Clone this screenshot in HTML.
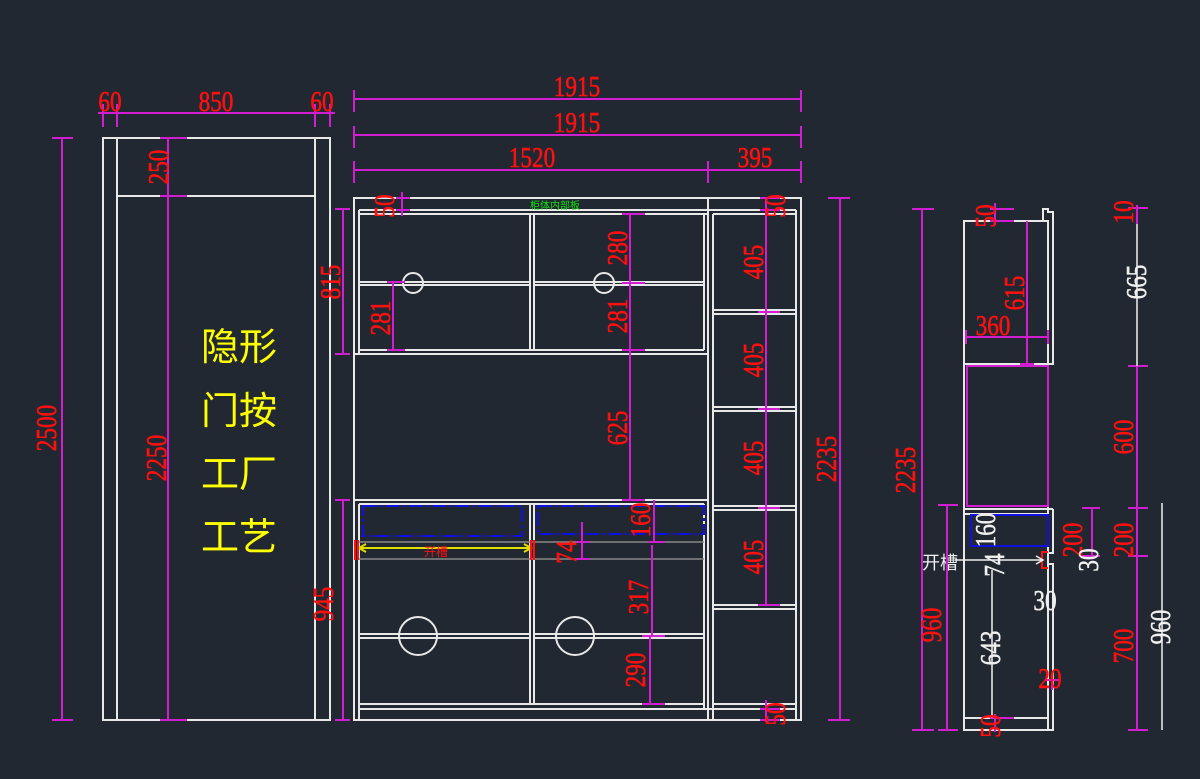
<!DOCTYPE html>
<html><head><meta charset="utf-8"><style>
html,body{margin:0;padding:0;background:#222831;}
svg{display:block}
.w{stroke:#e8e8e8;stroke-width:2;fill:none}
.m{stroke:#d01ed0;stroke-width:2;fill:none}
.t{fill:#ff1010;stroke:#ff1010;stroke-width:0.6;font-family:"Liberation Serif",serif;font-size:29px;text-anchor:middle}
.tw{fill:#f0f0f0;stroke:#f0f0f0;stroke-width:0.5;font-family:"Liberation Serif",serif;font-size:29px;text-anchor:middle}
.cn{fill:#ffff00;font-family:"Liberation Sans","Noto Sans CJK SC",sans-serif;font-size:38px}
</style></head><body>
<svg width="1200" height="779" viewBox="0 0 1200 779" xmlns="http://www.w3.org/2000/svg">
<rect width="1200" height="779" fill="#222831"/>

<!-- LEFT DOOR -->
<rect class="w" x="103" y="138" width="227" height="582"/>
<line class="w" x1="117" y1="138" x2="117" y2="720"/>
<line class="w" x1="315" y1="138" x2="315" y2="720"/>
<line class="w" x1="117" y1="196" x2="315" y2="196"/>
<g class="m">
<line x1="98" y1="113" x2="335" y2="113"/>
<line x1="103" y1="104" x2="103" y2="127"/><line x1="117" y1="104" x2="117" y2="127"/>
<line x1="315" y1="104" x2="315" y2="127"/><line x1="330" y1="104" x2="330" y2="127"/>
<line x1="62" y1="138" x2="62" y2="720"/>
<line x1="52" y1="138" x2="73" y2="138"/><line x1="52" y1="720" x2="73" y2="720"/>
<line x1="168" y1="138" x2="168" y2="720"/>
<line x1="160" y1="138" x2="187" y2="138"/><line x1="160" y1="196" x2="187" y2="196"/><line x1="160" y1="720" x2="187" y2="720"/>
</g>
<text class="t" transform="translate(110,111) scale(0.8,1)">60</text>
<text class="t" transform="translate(216,111) scale(0.8,1)">850</text>
<text class="t" transform="translate(322,111) scale(0.8,1)">60</text>
<text class="t" transform="translate(56,428) rotate(-90) scale(0.8,1)">2500</text>
<text class="t" transform="translate(166,458) rotate(-90) scale(0.8,1)">2250</text>
<text class="t" transform="translate(168,167) rotate(-90) scale(0.8,1)">250</text>
<text class="cn" x="201" y="360">隐形</text>
<text class="cn" x="201" y="424">门按</text>
<text class="cn" x="201" y="487">工厂</text>
<text class="cn" x="201" y="550">工艺</text>

<!-- MIDDLE CABINET -->
<g class="w">
<rect x="354" y="198" width="447" height="522"/>
<line x1="359" y1="210" x2="796" y2="210"/>
<line x1="359" y1="214" x2="708" y2="214"/>
<line x1="708" y1="198" x2="708" y2="720"/>
<line x1="713" y1="214" x2="713" y2="720"/>
<line x1="796" y1="210" x2="796" y2="720"/>
<line x1="713" y1="214" x2="796" y2="214"/>
<line x1="359" y1="210" x2="359" y2="354"/>
<line x1="354" y1="354" x2="708" y2="354"/>
<line x1="359" y1="350" x2="704" y2="350"/>
<line x1="704" y1="214" x2="704" y2="350"/>
<line x1="530" y1="214" x2="530" y2="350"/><line x1="534" y1="214" x2="534" y2="350"/>
<line x1="359" y1="282" x2="530" y2="282"/><line x1="359" y1="285" x2="530" y2="285"/>
<line x1="534" y1="282" x2="704" y2="282"/><line x1="534" y1="285" x2="704" y2="285"/>
<circle cx="413" cy="283" r="10"/><circle cx="604" cy="283" r="10"/>
<line x1="354" y1="500" x2="708" y2="500"/>
<line x1="359" y1="504" x2="704" y2="504"/>
<line x1="359" y1="504" x2="359" y2="720"/>
<line x1="704" y1="504" x2="704" y2="709"/>
<line x1="530" y1="504" x2="530" y2="704"/><line x1="534" y1="504" x2="534" y2="704"/>
<line x1="359" y1="634" x2="530" y2="634"/><line x1="359" y1="638" x2="530" y2="638"/>
<line x1="534" y1="634" x2="704" y2="634"/><line x1="534" y1="638" x2="704" y2="638"/>
<circle cx="418" cy="636" r="19"/><circle cx="575" cy="636" r="19"/>
<line x1="359" y1="704" x2="704" y2="704"/>
<line x1="359" y1="709" x2="796" y2="709"/>
<line x1="713" y1="310" x2="796" y2="310"/><line x1="713" y1="314" x2="796" y2="314"/>
<line x1="713" y1="407" x2="796" y2="407"/><line x1="713" y1="411" x2="796" y2="411"/>
<line x1="713" y1="506" x2="796" y2="506"/><line x1="713" y1="510" x2="796" y2="510"/>
<line x1="713" y1="605" x2="796" y2="605"/><line x1="713" y1="609" x2="796" y2="609"/>
<line x1="713" y1="704" x2="796" y2="704"/>
</g>
<line x1="359" y1="542" x2="704" y2="542" stroke="#888" stroke-width="1.5"/>
<line x1="359" y1="559" x2="704" y2="559" stroke="#888" stroke-width="1.5"/>
<rect x="363" y="506" width="159" height="30" fill="none" stroke="#1010e0" stroke-width="2" stroke-dasharray="14,3,3,3"/>
<rect x="538" y="506" width="166" height="28" fill="none" stroke="#1010e0" stroke-width="2" stroke-dasharray="14,3,3,3"/>
<line x1="360" y1="548" x2="530" y2="548" stroke="#e0e000" stroke-width="2"/>
<path d="M366 544 L359 548 L366 552 M524 544 L531 548 L524 552" stroke="#e0e000" stroke-width="2" fill="none"/>
<path d="M355 540 V560 M358 540 V560 M531 540 V560 M534 540 V560" stroke="#ff1010" stroke-width="2"/>
<text x="436" y="556" fill="#ff1010" font-size="12" font-family="Liberation Sans,Noto Sans CJK SC,sans-serif" text-anchor="middle">开槽</text>
<text x="555" y="209" fill="#10e010" font-size="10" font-family="Liberation Sans,Noto Sans CJK SC,sans-serif" text-anchor="middle">柜体内部板</text>

<g class="m">
<line x1="354" y1="99" x2="801" y2="99"/><line x1="354" y1="90" x2="354" y2="112"/><line x1="801" y1="90" x2="801" y2="112"/>
<line x1="354" y1="135" x2="801" y2="135"/><line x1="354" y1="126" x2="354" y2="148"/><line x1="801" y1="126" x2="801" y2="148"/>
<line x1="354" y1="170" x2="801" y2="170"/><line x1="354" y1="161" x2="354" y2="183"/><line x1="708" y1="161" x2="708" y2="183"/><line x1="801" y1="161" x2="801" y2="183"/>
<line x1="343" y1="209" x2="343" y2="354"/><line x1="335" y1="209" x2="350" y2="209"/><line x1="335" y1="354" x2="350" y2="354"/>
<line x1="343" y1="500" x2="343" y2="720"/><line x1="335" y1="500" x2="350" y2="500"/><line x1="335" y1="720" x2="350" y2="720"/>
<line x1="840" y1="198" x2="840" y2="720"/><line x1="828" y1="198" x2="850" y2="198"/><line x1="828" y1="720" x2="850" y2="720"/>
<line x1="402" y1="192" x2="402" y2="216"/><line x1="396" y1="198" x2="410" y2="198"/><line x1="396" y1="210" x2="410" y2="210"/>
<line x1="393" y1="282" x2="393" y2="350"/><line x1="387" y1="282" x2="405" y2="282"/><line x1="387" y1="350" x2="405" y2="350"/>
<line x1="630" y1="214" x2="630" y2="500"/>
<line x1="622" y1="214" x2="645" y2="214"/><line x1="622" y1="283" x2="645" y2="283"/><line x1="622" y1="350" x2="645" y2="350"/><line x1="622" y1="500" x2="645" y2="500"/>
<line x1="654" y1="500" x2="654" y2="542"/><line x1="648" y1="542" x2="665" y2="542"/>
<line x1="582" y1="522" x2="582" y2="559"/><line x1="576" y1="542" x2="590" y2="542"/><line x1="576" y1="559" x2="590" y2="559"/>
<line x1="652" y1="545" x2="652" y2="636"/><line x1="642" y1="636" x2="665" y2="636"/>
<line x1="650" y1="636" x2="650" y2="704"/><line x1="642" y1="704" x2="665" y2="704"/>
<line x1="766" y1="198" x2="766" y2="605"/>
<line x1="760" y1="198" x2="780" y2="198"/><line x1="760" y1="210" x2="780" y2="210"/>
<line x1="758" y1="312" x2="780" y2="312"/><line x1="758" y1="409" x2="780" y2="409"/><line x1="758" y1="508" x2="780" y2="508"/><line x1="758" y1="605" x2="780" y2="605"/>
<line x1="766" y1="700" x2="766" y2="722"/><line x1="760" y1="709" x2="780" y2="709"/><line x1="760" y1="720" x2="780" y2="720"/>
</g>
<text class="t" transform="translate(577,96) scale(0.8,1)">1915</text>
<text class="t" transform="translate(577,132) scale(0.8,1)">1915</text>
<text class="t" transform="translate(532,167) scale(0.8,1)">1520</text>
<text class="t" transform="translate(755,167) scale(0.8,1)">395</text>
<text class="t" transform="translate(394,206) rotate(-90) scale(0.8,1)">50</text>
<text class="t" transform="translate(785,206) rotate(-90) scale(0.8,1)">50</text>
<text class="t" transform="translate(785,714) rotate(-90) scale(0.8,1)">50</text>
<text class="t" transform="translate(340,282) rotate(-90) scale(0.8,1)">815</text>
<text class="t" transform="translate(333,604) rotate(-90) scale(0.8,1)">945</text>
<text class="t" transform="translate(836,459) rotate(-90) scale(0.8,1)">2235</text>
<text class="t" transform="translate(390,318) rotate(-90) scale(0.8,1)">281</text>
<text class="t" transform="translate(627,248) rotate(-90) scale(0.8,1)">280</text>
<text class="t" transform="translate(627,316) rotate(-90) scale(0.8,1)">281</text>
<text class="t" transform="translate(627,428) rotate(-90) scale(0.8,1)">625</text>
<text class="t" transform="translate(650,520) rotate(-90) scale(0.8,1)">160</text>
<text class="t" transform="translate(576,552) rotate(-90) scale(0.8,1)">74</text>
<text class="t" transform="translate(648,597) rotate(-90) scale(0.8,1)">317</text>
<text class="t" transform="translate(645,670) rotate(-90) scale(0.8,1)">290</text>
<text class="t" transform="translate(763,262) rotate(-90) scale(0.8,1)">405</text>
<text class="t" transform="translate(763,360) rotate(-90) scale(0.8,1)">405</text>
<text class="t" transform="translate(763,458) rotate(-90) scale(0.8,1)">405</text>
<text class="t" transform="translate(763,557) rotate(-90) scale(0.8,1)">405</text>

<!-- SIDE VIEW -->
<g class="w" stroke-width="1.6">
<rect x="964" y="221" width="84" height="509"/>
<path d="M1043 221 V209 H1048 V212 H1053 V364 H1048"/>
<line x1="964" y1="364" x2="1048" y2="364"/>
<line x1="964" y1="509" x2="1053" y2="509"/>
<line x1="964" y1="514" x2="1048" y2="514"/>
<path d="M1053 509 V553 H1048 M1048 564 H1053 V730 H1048"/>
<line x1="964" y1="718" x2="1048" y2="718"/>
</g>
<rect x="967" y="366" width="81" height="140" fill="none" stroke="#d01ed0" stroke-width="2"/>
<rect x="971" y="515" width="77" height="31" fill="none" stroke="#1010e0" stroke-width="2"/>
<path d="M1048 552 H1042 V568 H1048" stroke="#ff1010" stroke-width="2" fill="none"/>
<line x1="955" y1="560" x2="1043" y2="560" stroke="#f0f0f0" stroke-width="1.5"/>
<path d="M1036 556 L1043 560 L1036 564" stroke="#f0f0f0" stroke-width="1.5" fill="none"/>
<text x="940" y="569" fill="#f0f0f0" font-size="18" font-family="Liberation Sans,Noto Sans CJK SC,sans-serif" text-anchor="middle">开槽</text>
<g class="m">
<line x1="922" y1="209" x2="922" y2="730"/><line x1="912" y1="209" x2="934" y2="209"/><line x1="912" y1="730" x2="934" y2="730"/>
<line x1="947" y1="505" x2="947" y2="730"/><line x1="938" y1="505" x2="958" y2="505"/><line x1="938" y1="730" x2="958" y2="730"/>
<line x1="995" y1="203" x2="995" y2="225"/><line x1="990" y1="209" x2="1014" y2="209"/><line x1="990" y1="221" x2="1014" y2="221"/>
<line x1="1027" y1="221" x2="1027" y2="364"/><line x1="1020" y1="364" x2="1034" y2="364"/>
<line x1="966" y1="337" x2="1048" y2="337"/><line x1="966" y1="330" x2="966" y2="344"/><line x1="1048" y1="330" x2="1048" y2="344"/>
<line x1="1092" y1="508" x2="1092" y2="556"/><line x1="1082" y1="508" x2="1100" y2="508"/><line x1="1082" y1="556" x2="1100" y2="556"/>
<line x1="1137" y1="366" x2="1137" y2="730"/>
<line x1="1128" y1="366" x2="1148" y2="366"/><line x1="1128" y1="508" x2="1148" y2="508"/><line x1="1128" y1="556" x2="1148" y2="556"/><line x1="1128" y1="730" x2="1148" y2="730"/>
<line x1="1137" y1="205" x2="1137" y2="224"/><line x1="1128" y1="208" x2="1148" y2="208"/>
<line x1="1045" y1="680" x2="1060" y2="680"/><line x1="1052" y1="674" x2="1052" y2="690"/>
<line x1="995" y1="714" x2="995" y2="732"/><line x1="990" y1="718" x2="1014" y2="718"/>
</g>
<g stroke="#f0f0f0" stroke-width="1.5">
<line x1="1137" y1="224" x2="1137" y2="366"/>
<line x1="1162" y1="503" x2="1162" y2="730"/>
<line x1="992" y1="570" x2="992" y2="718"/>
</g>
<text class="t" transform="translate(915,470) rotate(-90) scale(0.8,1)">2235</text>
<text class="t" transform="translate(941,625) rotate(-90) scale(0.8,1)">960</text>
<text class="t" transform="translate(995,216) rotate(-90) scale(0.8,1)">50</text>
<text class="t" transform="translate(1024,293) rotate(-90) scale(0.8,1)">615</text>
<text class="t" transform="translate(993,335) scale(0.8,1)">360</text>
<text class="t" transform="translate(1082,540) rotate(-90) scale(0.8,1)">200</text>
<text class="t" transform="translate(1133,212) rotate(-90) scale(0.8,1)">10</text>
<text class="t" transform="translate(1133,437) rotate(-90) scale(0.8,1)">600</text>
<text class="t" transform="translate(1133,540) rotate(-90) scale(0.8,1)">200</text>
<text class="t" transform="translate(1133,646) rotate(-90) scale(0.8,1)">700</text>
<text class="t" transform="translate(1050,688) scale(0.8,1)">20</text>
<text class="t" transform="translate(1000,726) rotate(-90) scale(0.8,1)">50</text>
<text class="tw" transform="translate(1146,282) rotate(-90) scale(0.8,1)">665</text>
<text class="tw" transform="translate(1170,627) rotate(-90) scale(0.8,1)">960</text>
<text class="tw" transform="translate(1000,648) rotate(-90) scale(0.8,1)">643</text>
<text class="tw" transform="translate(995,530) rotate(-90) scale(0.8,1)">160</text>
<text class="tw" transform="translate(1004,565) rotate(-90) scale(0.8,1)">74</text>
<text class="tw" transform="translate(1098,560) rotate(-90) scale(0.8,1)">30</text>
<text class="tw" transform="translate(1045,610) scale(0.8,1)">30</text>
</svg>
</body></html>
